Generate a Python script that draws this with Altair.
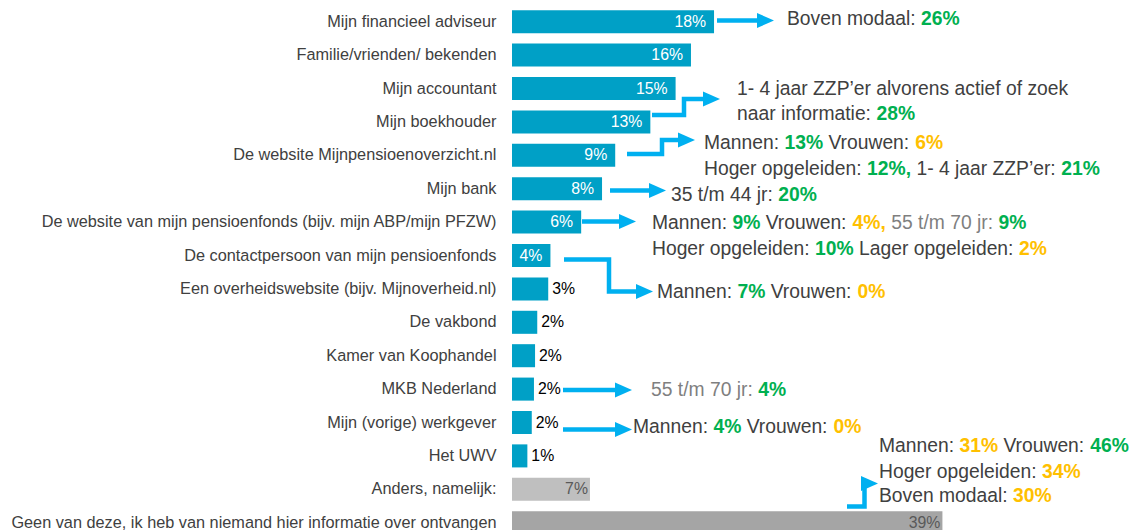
import altair as alt
import pandas as pd

# ---------------- data ----------------
categories = [
    "Mijn financieel adviseur",
    "Familie/vrienden/ bekenden",
    "Mijn accountant",
    "Mijn boekhouder",
    "De website Mijnpensioenoverzicht.nl",
    "Mijn bank",
    "De website van mijn pensioenfonds (bijv. mijn ABP/mijn PFZW)",
    "De contactpersoon van mijn pensioenfonds",
    "Een overheidswebsite (bijv. Mijnoverheid.nl)",
    "De vakbond",
    "Kamer van Koophandel",
    "MKB Nederland",
    "Mijn (vorige) werkgever",
    "Het UWV",
    "Anders, namelijk:",
    "Geen van deze, ik heb van niemand hier informatie over ontvangen",
]
values = [18.4, 16.3, 14.9, 12.6, 9.4, 8.2, 6.3, 3.5, 3.3, 2.3, 2.1, 2.0, 1.8, 1.4, 7.1, 39.2]
pct_labels = [18, 16, 15, 13, 9, 8, 6, 4, 3, 2, 2, 2, 2, 1, 7, 39]
groups = ["bron"] * 14 + ["anders", "geen"]

# annotation texts: (segment text, colour key, bold)
ann_a = [("Boven modaal: ", "dark", False), ("26%", "green", True)]
ann_b1 = [("1- 4 jaar ZZP’er alvorens actief of zoek", "dark", False)]
ann_b2 = [("naar informatie: ", "dark", False), ("28%", "green", True)]
ann_c1 = [("Mannen: ", "dark", False), ("13%", "green", True), (" Vrouwen: ", "dark", False), ("6%", "orange", True)]
ann_c2 = [("Hoger opgeleiden: ", "dark", False), ("12%,", "green", True), (" 1- 4 jaar ZZP’er: ", "dark", False), ("21%", "green", True)]
ann_d = [("35 t/m 44 jr: ", "dark", False), ("20%", "green", True)]
ann_e1 = [("Mannen: ", "dark", False), ("9%", "green", True), (" Vrouwen: ", "dark", False), ("4%,", "orange", True),
          (" 55 t/m 70 jr: ", "light", False), ("9%", "green", True)]
ann_e2 = [("Hoger opgeleiden: ", "dark", False), ("10%", "green", True), (" Lager opgeleiden: ", "dark", False), ("2%", "orange", True)]
ann_f = [("Mannen: ", "dark", False), ("7%", "green", True), (" Vrouwen: ", "dark", False), ("0%", "orange", True)]
ann_g = [("55 t/m 70 jr: ", "light", False), ("4%", "green", True)]
ann_h = [("Mannen: ", "dark", False), ("4%", "green", True), (" Vrouwen: ", "dark", False), ("0%", "orange", True)]
ann_i1 = [("Mannen: ", "dark", False), ("31%", "orange", True), (" Vrouwen: ", "dark", False), ("46%", "green", True)]
ann_i2 = [("Hoger opgeleiden: ", "dark", False), ("34%", "orange", True)]
ann_i3 = [("Boven modaal: ", "dark", False), ("30%", "orange", True)]

# ---------------- layout / style ----------------
FONT = "Liberation Sans"
BLUE = "#00A0C6"
ARROW = "#00B0F0"
COLORS = {"dark": "#404040", "light": "#7F7F7F", "green": "#00B050", "orange": "#FFC000"}
PLOT_LEFT, PLOT_TOP = 512, 8
W, H = 1130 - PLOT_LEFT, 522          # keep the svg inside the 1122px wide page body
X_MAX = W / 10.98                      # ~10.98 px per percent point
ANN_SIZE = 19.3

# page positions of annotation lines (left x, baseline y)
ann_lines = [
    (787, 24.5, ann_a), (737, 95, ann_b1), (737, 119.5, ann_b2),
    (704, 149, ann_c1), (704, 174.5, ann_c2), (671, 200.5, ann_d),
    (652, 229, ann_e1), (652, 255, ann_e2), (657, 298, ann_f),
    (651, 396, ann_g), (633, 432.5, ann_h),
    (879, 452, ann_i1), (879, 477.5, ann_i2), (879, 502, ann_i3),
]
# arrow shafts (page coords) and tip positions
arrows = [
    ([(717, 20.5), (759, 20.5)], (774, 20.5)),
    ([(652, 115), (684, 115), (684, 99), (705, 99)], (720, 99)),
    ([(627, 154), (662, 154), (662, 140), (680, 140)], (695, 140)),
    ([(610, 190.5), (652, 190.5)], (666, 190.5)),
    ([(582, 221.5), (622, 221.5)], (636, 221.5)),
    ([(564, 259.5), (609, 259.5), (609, 291.5), (639, 291.5)], (653, 291.5)),
    ([(563, 390), (618, 390)], (632, 390)),
    ([(563, 429.5), (618, 429.5)], (632, 429.5)),
    ([(847, 506.5), (864.5, 506.5), (864.5, 483.5), (866, 483.5)], (878, 483.5)),
]

# Arial / Liberation Sans advance widths (em)
REG = {" ": .278, "-": .333, "/": .278, ":": .278, ",": .278, "’": .222, "%": .889,
       "B": .667, "H": .722, "L": .556, "M": .833, "P": .667, "V": .667, "Z": .611,
       "a": .556, "c": .5, "d": .556, "e": .556, "f": .278, "g": .556, "i": .222, "j": .222,
       "k": .5, "l": .222, "m": .833, "n": .556, "o": .556, "p": .556, "r": .333, "s": .5,
       "t": .278, "u": .556, "v": .5, "w": .722, "z": .5}
BOLD = {" ": .278, ",": .278, "%": .889}


def tw(s, bold):
    table = BOLD if bold else REG
    return sum(table.get(ch, .556) for ch in s) * ANN_SIZE


seg_rows = []
for x0, yb, segs in ann_lines:
    x = x0
    for s, ck, b in segs:
        lead = len(s) - len(s.lstrip())
        seg_rows.append({"x": x + tw(s[:lead], b) - PLOT_LEFT, "y": yb - PLOT_TOP,
                         "text": s.strip(), "color": COLORS[ck], "bold": b})
        x += tw(s, b)
seg_df = pd.DataFrame(seg_rows)

shaft_rows, head_rows = [], []
for k, (pts, tip) in enumerate(arrows):
    for i, (px, py) in enumerate(pts):
        shaft_rows.append({"arrow": k, "i": i, "x": px - PLOT_LEFT, "y": py - PLOT_TOP})
    head_rows.append({"x": tip[0] - 8.5 - PLOT_LEFT, "y": tip[1] - PLOT_TOP})
shaft_df = pd.DataFrame(shaft_rows)
head_df = pd.DataFrame(head_rows)

df = pd.DataFrame({"cat": categories, "value": values, "pct": pct_labels, "group": groups})
df["label"] = df["pct"].astype(str) + "%"

# ---------------- chart ----------------
x_enc = alt.X("value:Q", scale=alt.Scale(domain=[0, X_MAX], nice=False, zero=True), axis=None)
y_enc = alt.Y("cat:N", sort=categories,
              scale=alt.Scale(range=[-3.0, 531.4], paddingInner=0.31, paddingOuter=0.155),
              axis=alt.Axis(title=None, ticks=False, domain=False, grid=False, labelPadding=16,
                            labelFont=FONT, labelFontSize=16.3, labelColor="#404040",
                            labelLimit=700, labelBaseline="middle"))

base = alt.Chart(df)
bars = base.mark_bar().encode(
    x=x_enc, y=y_enc,
    color=alt.Color("group:N", scale=alt.Scale(domain=["bron", "anders", "geen"],
                                               range=[BLUE, "#BFBFBF", "#A5A5A5"]), legend=None),
)
lab_in = base.transform_filter("datum.group == 'bron' && datum.pct >= 4").mark_text(
    align="right", dx=-8, baseline="middle", font=FONT, fontSize=15.8, color="white"
).encode(x=x_enc, y=y_enc, text="label:N")
lab_out = base.transform_filter("datum.group == 'bron' && datum.pct < 4").mark_text(
    align="left", dx=4, baseline="middle", font=FONT, fontSize=15.8, color="#000000"
).encode(x=x_enc, y=y_enc, text="label:N")
lab_grey = base.transform_filter("datum.group != 'bron'").mark_text(
    align="right", dx=-2, baseline="middle", font=FONT, fontSize=15.8, color="#595959"
).encode(x=x_enc, y=y_enc, text="label:N")

bar_group = alt.layer(bars, lab_in, lab_out, lab_grey)

px = alt.X("x:Q", scale=None, axis=None)
py = alt.Y("y:Q", scale=None, axis=None)

shafts = alt.Chart(shaft_df).mark_line(
    strokeWidth=4.5, color=ARROW, strokeCap="butt", strokeJoin="miter"
).encode(x=px, y=py, detail="arrow:N", order="i:Q")
heads = alt.Chart(head_df).mark_point(
    shape="M -1 -0.88 L 1 0 L -1 0.88 Z", filled=True, size=289, color=ARROW, opacity=1, strokeWidth=0
).encode(x=px, y=py)

ann_reg = alt.Chart(seg_df).transform_filter("!datum.bold").mark_text(
    align="left", baseline="alphabetic", font=FONT, fontSize=ANN_SIZE
).encode(x=px, y=py, text="text:N", color=alt.Color("color:N", scale=None))
ann_bold = alt.Chart(seg_df).transform_filter("datum.bold").mark_text(
    align="left", baseline="alphabetic", font=FONT, fontSize=ANN_SIZE, fontWeight="bold"
).encode(x=px, y=py, text="text:N", color=alt.Color("color:N", scale=None))

chart = alt.layer(bar_group, shafts, heads, ann_reg, ann_bold).resolve_scale(
    x="independent", y="independent", color="independent"
).properties(
    width=W, height=H,
    autosize=alt.AutoSizeParams(type="none"),
    padding={"left": PLOT_LEFT - 8, "top": 0, "right": 0, "bottom": 0},
    background="white",
).configure_view(stroke=None)

chart.save("out.html", embed_options={"renderer": "svg", "actions": False})
